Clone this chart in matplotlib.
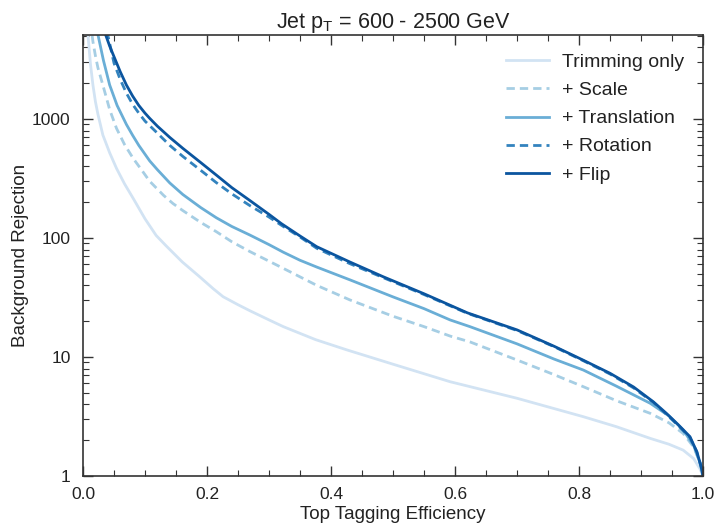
import numpy as np
import matplotlib
matplotlib.use('Agg')
import matplotlib.pyplot as plt
from matplotlib.ticker import FixedLocator, FixedFormatter, MultipleLocator, LogLocator, NullFormatter, FormatStrFormatter

plt.rcParams['font.family'] = ['Liberation Sans', 'DejaVu Sans']

# ROC curves: efficiency vs background rejection
eff_trim = [0.005, 0.008, 0.012, 0.016, 0.02, 0.024, 0.032, 0.043, 0.054, 0.067, 0.081, 0.10,
            0.118, 0.134, 0.16, 0.188, 0.21, 0.226, 0.25, 0.269, 0.30, 0.323, 0.375, 0.425,
            0.50, 0.592, 0.70, 0.807, 0.86, 0.915, 0.945, 0.968, 0.985, 0.995, 1.0]
rej_trim = [7000, 5080, 2900, 1930, 1400, 1100, 734, 520, 385, 285, 215, 145,
            105, 86, 63, 47.3, 37.5, 32.1, 27.5, 24.5, 20.5, 18, 14, 11.5,
            8.7, 6.2, 4.5, 3.15, 2.6, 2.07, 1.85, 1.65, 1.4, 1.15, 1.0]

eff_scale = [0.012, 0.016, 0.02, 0.024, 0.032, 0.043, 0.054, 0.067, 0.081, 0.095, 0.1075, 0.13,
             0.145, 0.161, 0.19, 0.215, 0.24, 0.269, 0.323, 0.377, 0.431, 0.50, 0.55, 0.592,
             0.624, 0.70, 0.76, 0.807, 0.86, 0.915, 0.945, 0.968, 0.985, 0.995, 1.0]
rej_scale = [6500, 4470, 3400, 2700, 1930, 1200, 835, 610, 466, 370, 300, 228,
             195, 170, 135, 113, 93, 77, 55.6, 40, 30.1, 22, 18, 15,
             13.4, 9.44, 7.1, 5.63, 4.3, 3.36, 2.8, 2.28, 1.75, 1.3, 1.0]

eff_trans = [0.020, 0.0242, 0.033, 0.043, 0.055, 0.070, 0.08, 0.09, 0.1075, 0.12, 0.14, 0.161,
             0.19, 0.215, 0.24, 0.269, 0.30, 0.323, 0.35, 0.377, 0.431, 0.50, 0.55, 0.592,
             0.624, 0.70, 0.76, 0.807, 0.86, 0.915, 0.945, 0.968, 0.985, 0.995, 1.0]
rej_trans = [6500, 5080, 3100, 1930, 1300, 900, 730, 600, 445, 375, 290, 232,
             180, 148, 125, 106, 88, 76, 65, 57, 44.4, 32, 25.5, 20.5,
             18, 12.9, 9.6, 7.77, 5.7, 4.08, 3.2, 2.44, 1.8, 1.3, 1.0]

eff_rot = [0.032, 0.040, 0.05, 0.06, 0.07, 0.08, 0.09, 0.1, 0.1075, 0.12, 0.14, 0.161,
           0.19, 0.215, 0.24, 0.27, 0.30, 0.32, 0.35, 0.377, 0.43, 0.484, 0.55, 0.62,
           0.70, 0.76, 0.807, 0.85, 0.888, 0.92, 0.941, 0.96, 0.979, 0.99, 0.997, 1.0]
rej_rot = [7000, 5080, 2950, 2150, 1650, 1330, 1120, 960, 880, 760, 600, 485,
           370, 292, 235, 186, 150, 128, 102, 82, 61, 46.5, 33.5, 23.3,
           16.7, 12.2, 9.3, 7.2, 5.5, 4.15, 3.3, 2.65, 2.1, 1.6, 1.2, 1.0]

eff_flip = [0.030, 0.0366, 0.043, 0.05, 0.06, 0.07, 0.08, 0.09, 0.1, 0.1075, 0.12, 0.14,
            0.161, 0.19, 0.215, 0.24, 0.27, 0.30, 0.32, 0.35, 0.377, 0.43, 0.484, 0.55,
            0.62, 0.70, 0.76, 0.807, 0.85, 0.888, 0.92, 0.941, 0.96, 0.979, 0.99, 0.997, 1.0]
rej_flip = [6500, 5080, 4100, 3340, 2500, 1930, 1560, 1300, 1120, 1014, 870, 700,
            567, 430, 338, 265, 205, 158, 132, 104, 84.5, 63, 47.3, 34,
            23.5, 16.9, 12.3, 9.4, 7.3, 5.6, 4.2, 3.36, 2.7, 2.14, 1.6, 1.2, 1.0]

labels = ['Trimming only', '+ Scale', '+ Translation', '+ Rotation', '+ Flip']
colors = ['#d2e3f3', '#a6cee4', '#6aaed6', '#3383be', '#0b559f']
styles = ['-', '--', '-', '--', '-']

fig = plt.figure(figsize=(7.15, 5.24), dpi=100)
ax = fig.add_axes([0.1161, 0.0916, 0.8671, 0.8416])

curves = [(eff_trim, rej_trim), (eff_scale, rej_scale), (eff_trans, rej_trans),
          (eff_rot, rej_rot), (eff_flip, rej_flip)]
for (x, y), lab, c, ls in zip(curves, labels, colors, styles):
    line, = ax.plot(x, y, ls, color=c, lw=2.0, label=lab)
    if ls == '--':
        line.set_dashes((3, 1.8))

ax.set_yscale('log')
ax.set_xlim(0, 1)
ax.set_ylim(1, 5080)
ax.xaxis.set_major_locator(MultipleLocator(0.2))
ax.xaxis.set_minor_locator(MultipleLocator(0.05))
ax.xaxis.set_major_formatter(FormatStrFormatter('%.1f'))
ax.yaxis.set_major_locator(FixedLocator([1, 10, 100, 1000]))
ax.yaxis.set_major_formatter(FixedFormatter(['1', '10', '100', '1000']))
ax.yaxis.set_minor_locator(LogLocator(base=10, subs=np.arange(2, 10)))
ax.yaxis.set_minor_formatter(NullFormatter())

ax.tick_params(which='both', direction='in', top=True, right=True, colors='#333333',
               labelcolor='#222222', labelsize=12.5)
ax.tick_params(which='major', length=7, width=1)
ax.tick_params(axis='y', which='major', pad=9)
ax.tick_params(axis='x', which='major', pad=8)
ax.tick_params(which='minor', length=4, width=0.8)
for s in ax.spines.values():
    s.set_color('#333333')
    s.set_linewidth(1.2)

ax.set_xlabel('Top Tagging Efficiency', fontsize=13.5, color='#222222', labelpad=3)
ax.set_ylabel('Background Rejection', fontsize=13.5, color='#222222', labelpad=2)
ax.set_title('Jet p$_\\mathregular{T}$ = 600 - 2500 GeV', fontsize=15.5, color='#222222', pad=5)

leg = ax.legend(loc='upper right', frameon=False, fontsize=14, handlelength=2.2,
                handletextpad=0.7, labelspacing=0.54, borderaxespad=0.55)
for t in leg.get_texts():
    t.set_color('#222222')

fig.savefig('out.png', dpi=100)
